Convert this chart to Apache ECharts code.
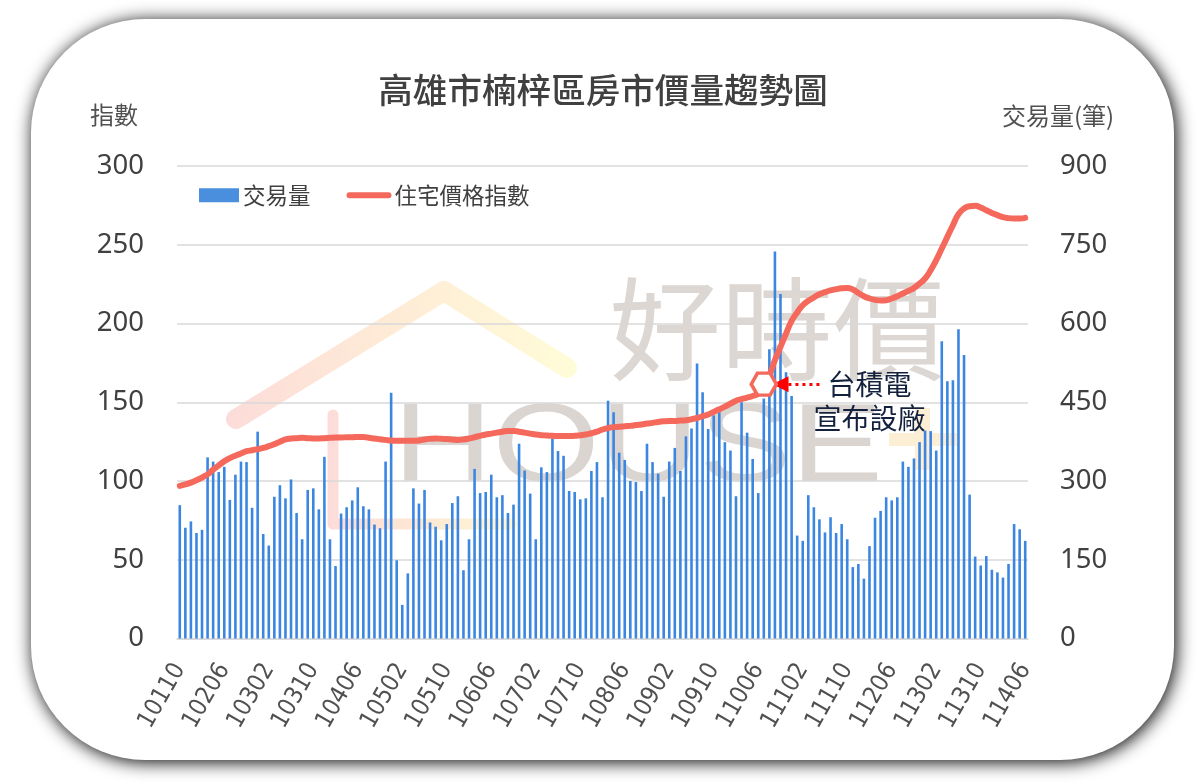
<!DOCTYPE html>
<html>
<head>
<meta charset="utf-8">
<title>高雄市楠梓區房市價量趨勢圖</title>
<style>
  html, body { margin: 0; padding: 0; background: #fff; }
  #chart { width: 1200px; height: 782px; }
</style>
<script src="https://cdn.jsdelivr.net/npm/echarts@6/dist/echarts.min.js"></script>
</head>
<body>
<div id="chart"></div>
<script>
var FONT = '"Noto Sans CJK TC", "Noto Sans", sans-serif';

var months = [
  "10110", "10111", "10112",
  "10201", "10202", "10203", "10204", "10205", "10206", "10207", "10208", "10209", "10210", "10211", "10212",
  "10301", "10302", "10303", "10304", "10305", "10306", "10307", "10308", "10309", "10310", "10311", "10312",
  "10401", "10402", "10403", "10404", "10405", "10406", "10407", "10408", "10409", "10410", "10411", "10412",
  "10501", "10502", "10503", "10504", "10505", "10506", "10507", "10508", "10509", "10510", "10511", "10512",
  "10601", "10602", "10603", "10604", "10605", "10606", "10607", "10608", "10609", "10610", "10611", "10612",
  "10701", "10702", "10703", "10704", "10705", "10706", "10707", "10708", "10709", "10710", "10711", "10712",
  "10801", "10802", "10803", "10804", "10805", "10806", "10807", "10808", "10809", "10810", "10811", "10812",
  "10901", "10902", "10903", "10904", "10905", "10906", "10907", "10908", "10909", "10910", "10911", "10912",
  "11001", "11002", "11003", "11004", "11005", "11006", "11007", "11008", "11009", "11010", "11011", "11012",
  "11101", "11102", "11103", "11104", "11105", "11106", "11107", "11108", "11109", "11110", "11111", "11112",
  "11201", "11202", "11203", "11204", "11205", "11206", "11207", "11208", "11209", "11210", "11211", "11212",
  "11301", "11302", "11303", "11304", "11305", "11306", "11307", "11308", "11309", "11310", "11311", "11312",
  "11401", "11402", "11403", "11404", "11405", "11406"
];

// 交易量(筆)
var volume = [
  254, 211, 223, 201, 207, 345, 337, 317, 327, 264,
  312, 337, 336, 249, 394, 199, 177, 270, 292, 267,
  303, 239, 189, 283, 286, 246, 346, 189, 138, 238,
  250, 263, 288, 252, 246, 217, 210, 337, 468, 149,
  64, 124, 286, 257, 283, 221, 213, 187, 218, 258,
  271, 130, 189, 323, 277, 279, 312, 269, 273, 239,
  255, 371, 320, 276, 189, 326, 317, 381, 357, 348,
  281, 279, 265, 267, 319, 336, 269, 453, 431, 354,
  340, 300, 298, 281, 371, 336, 314, 270, 337, 363,
  319, 385, 400, 524, 469, 399, 425, 431, 374, 358,
  271, 450, 392, 342, 277, 457, 551, 737, 656, 507,
  462, 196, 186, 273, 250, 227, 202, 231, 201, 218,
  189, 136, 142, 114, 176, 230, 243, 269, 263, 269,
  337, 327, 343, 374, 396, 395, 358, 566, 490, 492,
  589, 540, 274, 156, 139, 157, 131, 126, 116, 142,
  218, 208, 186
];

// 住宅價格指數
var priceIndex = [
  96.9, 97.8, 99, 100.5, 102.2, 104.2, 107.2, 109.9, 112.5, 114.5,
  116.1, 117.5, 118.9, 119.5, 120.2, 121, 122.1, 123.4, 124.9, 126.4,
  127, 127.2, 127.4, 127.2, 127, 127, 127.2, 127.4, 127.6, 127.6,
  127.8, 127.8, 128, 128, 127.4, 127, 126.5, 126.1, 125.7, 125.5,
  125.5, 125.5, 125.5, 125.7, 126.4, 126.8, 127, 126.8, 126.6, 126.4,
  126.1, 126.4, 127, 127.8, 128.7, 129.5, 130.1, 130.7, 131.3, 131.8,
  131.8, 131.3, 130.7, 130.1, 129.5, 129.1, 128.9, 128.7, 128.5, 128.5,
  128.5, 128.7, 129.1, 129.5, 130.3, 131.3, 132.7, 133.6, 134.2, 134.4,
  134.8, 135, 135.5, 135.9, 136.5, 136.9, 137.5, 137.9, 138.1, 138.1,
  138.4, 138.6, 139.2, 140, 141.1, 142.2, 143.9, 145.5, 147.2, 149.1,
  151, 152, 152.9, 154, 155.6, 161, 167.2, 176.7, 185.2, 193.6,
  201.7, 207, 211.6, 214.4, 216.5, 218.6, 219.9, 221, 221.8, 222.4,
  222.6, 221.6, 219.4, 217.3, 215.9, 215, 214.6, 214.8, 215.9, 217.3,
  219, 220.7, 222.6, 225.4, 228.6, 233.8, 240.2, 247.6, 255, 262.4,
  269.4, 273, 274.5, 274.7, 273.7, 271.9, 270.2, 268.8, 267.5, 266.9,
  266.7, 266.7, 267.1
];

var indexTicks = { min: 0, max: 300, interval: 50 };
var volumeTicks = { min: 0, max: 900, interval: 150 };

// 圖例 icon: 前兩段是極小三角形，只用來撐開 icon 的外框
var barIcon = "path://M0 0L0.01 0L0 0.01ZM45 14L44.99 14L45 13.99ZM0 0H40V14H0Z";
var lineIcon = "path://M0 0L0.01 0L0 0.01ZM45 14L44.99 14L45 13.99ZM3 4H42A3 3 0 0 1 42 10H3A3 3 0 0 1 3 4Z";

var chart = echarts.init(document.getElementById("chart"), null, { renderer: "canvas" });

function hGradient(stops) {
  return { type: "linear", x: 0, y: 0, x2: 1, y2: 0, colorStops: stops };
}

var graphics = [
  // card with its shadow
  {
    type: "rect", z: -20,
    shape: { x: 31, y: 19, width: 1143, height: 741, r: 114 },
    style: { fill: "#fff", shadowBlur: 18, shadowColor: "rgba(0,0,0,1)", shadowOffsetX: 2, shadowOffsetY: 2 }
  },
  // watermark: logo
  {
    type: "polyline", z: -10,
    shape: { points: [[236, 419], [444, 291], [567, 368]] },
    style: {
      fill: null, lineWidth: 20, lineCap: "round", lineJoin: "round",
      stroke: hGradient([
        { offset: 0, color: "#fcdcd9" },
        { offset: 0.5, color: "#feecd6" },
        { offset: 1, color: "#fffcd8" }
      ])
    }
  },
  {
    type: "polyline", z: -10,
    shape: { points: [[333, 415], [333, 524], [512, 524]] },
    style: {
      fill: null, lineWidth: 11, lineCap: "round", lineJoin: "round",
      stroke: hGradient([
        { offset: 0, color: "#fcdcd9" },
        { offset: 0.5, color: "#fde8d4" },
        { offset: 1, color: "#fff9d6" }
      ])
    }
  },
  { type: "rect", z: -10, shape: { x: 889, y: 433, width: 68, height: 13 }, style: { fill: "#fdeed6" } },
  { type: "rect", z: -10, shape: { x: 915, y: 408, width: 15, height: 62 }, style: { fill: "#fdeed6" } },
  // watermark: wordmark
  {
    type: "text", z: -10, x: 609, y: 329,
    style: { text: "好時價", fill: "#dcd7d3", font: '112px "Noto Sans CJK TC"', textAlign: "left", textVerticalAlign: "middle" }
  },
  {
    type: "text", z: -10, x: 393, y: 450, scaleX: 1.23,
    style: { text: "HOUSE", fill: "#dad5d1", font: '112px "Liberation Sans"', textAlign: "left", textVerticalAlign: "middle" }
  },
  // axis captions
  {
    type: "text", x: 114, y: 115,
    style: { text: "指數", fill: "#505050", font: "24px " + FONT, textAlign: "center", textVerticalAlign: "middle" }
  },
  {
    type: "text", x: 1058, y: 116,
    style: { text: "交易量(筆)", fill: "#505050", font: "24px " + FONT, textAlign: "center", textVerticalAlign: "middle" }
  }
];

chart.setOption({
  animation: false,
  backgroundColor: "#fff",
  textStyle: { fontFamily: FONT },
  title: {
    text: "高雄市楠梓區房市價量趨勢圖",
    left: 598,
    top: 68,
    textAlign: "center",
    textStyle: { fontSize: 34.6, fontWeight: 500, color: "#404040", fontFamily: FONT }
  },
  legend: {
    left: 199,
    top: 184,
    padding: 0,
    itemWidth: 45,
    itemHeight: 14,
    itemGap: 36,
    textStyle: { fontSize: 22.5, color: "#404040", fontFamily: FONT },
    data: [
      { name: "交易量", icon: barIcon, itemStyle: { color: "#4a8fdd" }, textStyle: { padding: [0, 0, 0, -6] } },
      { name: "住宅價格指數", icon: lineIcon, itemStyle: { color: "#f4695c" }, textStyle: { padding: [0, 0, 0, -2] } }
    ]
  },
  grid: { left: 177, right: 172, top: 166, bottom: 143.5 },
  xAxis: {
    type: "category",
    data: months,
    axisTick: { show: false },
    axisLine: { lineStyle: { color: "#d9d9d9", width: 1.5 } },
    axisLabel: {
      interval: 7,
      rotate: 60,
      margin: 27,
      fontSize: 24.5,
      color: "#505050",
      fontFamily: '"DejaVu Sans Condensed", "DejaVu Sans", sans-serif'
    }
  },
  yAxis: [
    {
      type: "value",
      min: indexTicks.min,
      max: indexTicks.max,
      interval: indexTicks.interval,
      axisLine: { show: false },
      axisTick: { show: false },
      splitLine: { lineStyle: { color: "#d9d9d9", width: 1.5 } },
      axisLabel: { margin: 33, fontSize: 27.5, color: "#404040", fontFamily: '"Noto Sans", sans-serif' }
    },
    {
      type: "value",
      min: volumeTicks.min,
      max: volumeTicks.max,
      interval: volumeTicks.interval,
      axisLine: { show: false },
      axisTick: { show: false },
      splitLine: { show: false },
      axisLabel: { margin: 32, fontSize: 27.5, color: "#404040", fontFamily: '"Noto Sans", sans-serif' }
    }
  ],
  series: [
    {
      name: "交易量",
      type: "bar",
      yAxisIndex: 1,
      data: volume,
      barWidth: 2.6,
      itemStyle: { color: "#3b86e0" }
    },
    {
      name: "住宅價格指數",
      type: "line",
      yAxisIndex: 0,
      data: priceIndex,
      smooth: true,
      symbol: "none",
      z: 5,
      lineStyle: { color: "#f4695c", width: 6, cap: "round", join: "round" },
      itemStyle: { color: "#f4695c" },
      markLine: {
        silent: true,
        z: 9,
        symbol: ["none", "triangle"],
        symbolSize: 16,
        label: { show: false },
        lineStyle: { color: "#ff0000", type: [3, 4], width: 3 },
        data: [[{ coord: ["11105", 161.5] }, { coord: ["11010", 161.5] }]]
      },
      markPoint: {
        silent: true,
        z: 10,
        data: [
          {
            coord: ["11007", 161.5],
            symbol: "path://M-2 0 L-1 -1.75 L1 -1.75 L2 0 L1 1.75 L-1 1.75 Z",
            symbolSize: [25, 22],
            itemStyle: { color: "#fff", borderColor: "#f4695c", borderWidth: 3.5 },
            label: { show: false }
          },
          {
            coord: ["11202", 161.5],
            symbol: "circle",
            symbolSize: 1,
            itemStyle: { color: "transparent" },
            label: { show: true, position: "inside", formatter: "台積電", fontSize: 28, color: "#14213d", fontFamily: FONT }
          },
          {
            coord: ["11202", 140],
            symbol: "circle",
            symbolSize: 1,
            itemStyle: { color: "transparent" },
            label: { show: true, position: "inside", formatter: "宣布設廠", fontSize: 28, color: "#14213d", fontFamily: FONT }
          }
        ]
      }
    }
  ],
  graphic: { elements: graphics }
});

window.addEventListener("resize", function () {
  chart.resize();
});
</script>
</body>
</html>
